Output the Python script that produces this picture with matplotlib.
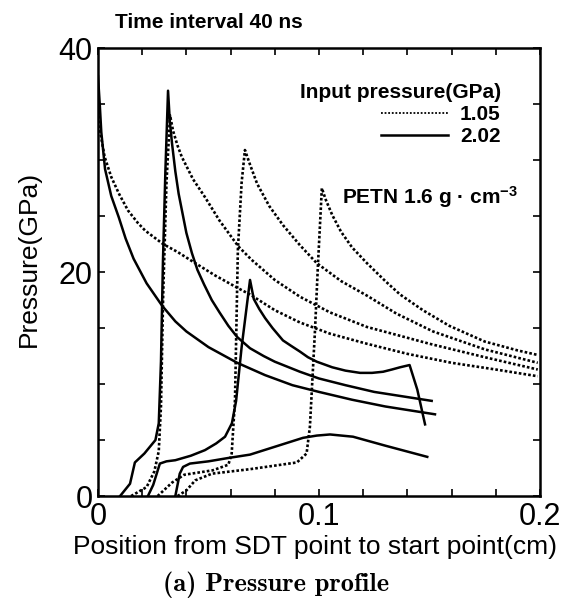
import numpy as np
import matplotlib
matplotlib.use("Agg")
import matplotlib.pyplot as plt
from matplotlib.lines import Line2D

plt.rcParams['font.family'] = ['Liberation Sans', 'DejaVu Sans']
plt.rcParams['mathtext.default'] = 'regular'

# Solid curves, input pressure 2.02 GPa (position in cm, pressure in GPa)
s1_x = [0, 0.0008, 0.0015, 0.0032, 0.006, 0.0094, 0.0125, 0.0161, 0.022, 0.029, 0.035, 0.040, 0.050, 0.063,
        0.0756, 0.088, 0.100, 0.115, 0.130, 0.1525]
s1_y = [37.5, 35.0, 32.5, 29.2, 26.8, 24.9, 23.0, 21.2, 19.0, 17.0, 15.6, 14.7, 13.3, 11.9, 10.8, 9.9, 9.3,
        8.6, 8.0, 7.3]

s2_x = [0.010, 0.0145, 0.0167, 0.021, 0.026, 0.0275, 0.0285, 0.0294, 0.0305, 0.0317, 0.0325, 0.0335, 0.035,
        0.0365, 0.038, 0.040, 0.0425, 0.045, 0.048, 0.0515, 0.055, 0.059, 0.063, 0.0688, 0.075, 0.080, 0.0914,
        0.100, 0.112, 0.125, 0.138, 0.151]
s2_y = [0, 1.1, 3.0, 3.8, 5.0, 6.5, 12, 21, 29, 36.2, 33.5, 31.5, 29.0, 27.0, 25.5, 23.5, 21.7, 20.2, 18.9,
        17.5, 16.4, 15.2, 14.2, 13.2, 12.5, 12.0, 11.1, 10.5, 9.9, 9.3, 8.9, 8.5]

s3_x = [0.0226, 0.025, 0.028, 0.031, 0.035, 0.042, 0.0484, 0.0535, 0.0575, 0.0606, 0.0625, 0.065, 0.0688,
        0.0705, 0.073, 0.0756, 0.079, 0.0837, 0.0875, 0.0914, 0.095, 0.099, 0.106, 0.112, 0.1186, 0.124, 0.129,
        0.133, 0.1367, 0.141, 0.1445, 0.148]
s3_y = [0, 1.0, 2.9, 3.1, 3.2, 3.6, 4.1, 4.7, 5.3, 6.5, 8.5, 13.3, 19.3, 17.6, 16.7, 15.9, 15.0, 13.9, 13.4,
        12.9, 12.4, 12.0, 11.5, 11.2, 11.0, 11.0, 11.1, 11.3, 11.5, 11.7, 9.5, 6.4]

s4_x = [0.035, 0.037, 0.0385, 0.0416, 0.050, 0.059, 0.0688, 0.080, 0.0928, 0.099, 0.105, 0.1154, 0.130, 0.149]
s4_y = [0, 2.0, 2.6, 2.9, 3.1, 3.4, 3.7, 4.4, 5.2, 5.4, 5.5, 5.3, 4.5, 3.5]

# Dotted curves, input pressure 1.05 GPa
d1_x = [0, 0.001, 0.003, 0.006, 0.0095, 0.0136, 0.018, 0.0214, 0.0295, 0.036, 0.0424, 0.053, 0.064, 0.0688,
        0.080, 0.0914, 0.105, 0.1217, 0.140, 0.160, 0.180, 0.199]
d1_y = [36.5, 32.5, 30.3, 28.5, 27.0, 25.5, 24.4, 23.7, 22.5, 21.8, 21.0, 19.7, 18.5, 18.0, 16.6, 15.5, 14.5,
        13.6, 12.7, 11.9, 11.3, 10.7]

d2_x = [0.015, 0.022, 0.0255, 0.0275, 0.0285, 0.0295, 0.031, 0.0326, 0.034, 0.036, 0.0379, 0.043, 0.0484,
        0.055, 0.0635, 0.0695, 0.080, 0.0914, 0.105, 0.1217, 0.135, 0.150, 0.175, 0.199]
d2_y = [0, 0.8, 2.2, 4.0, 8, 18, 28, 34.0, 32.6, 31.3, 30.3, 28.3, 26.7, 24.6, 22.3, 21.1, 19.3, 17.8, 16.4,
        15.1, 14.4, 13.6, 12.4, 11.3]

d3_x = [0.027, 0.0335, 0.039, 0.052, 0.059, 0.0605, 0.062, 0.0633, 0.065, 0.0665, 0.0688, 0.072, 0.0775,
        0.0837, 0.0914, 0.099, 0.110, 0.1217, 0.135, 0.1516, 0.175, 0.199]
d3_y = [0, 1.2, 1.9, 2.3, 2.8, 3.8, 8.6, 22, 28, 30.9, 29.6, 27.9, 25.9, 24.2, 22.4, 20.8, 19.2, 17.9, 16.3,
        14.7, 13.1, 11.9]

d4_x = [0.036, 0.040, 0.044, 0.0516, 0.0688, 0.090, 0.0944, 0.0959, 0.0982, 0.0995, 0.1013, 0.103, 0.106,
        0.110, 0.115, 0.1217, 0.130, 0.1367, 0.147, 0.159, 0.175, 0.190, 0.199]
d4_y = [0, 0.5, 1.4, 2.0, 2.4, 3.0, 3.8, 6.2, 14.8, 20.5, 27.5, 26.5, 25.1, 23.6, 22.2, 20.8, 19.2, 18.0,
        16.6, 15.2, 13.8, 13.0, 12.6]

x_ticks = np.arange(0, 0.2001, 0.02)
x_labels = ['0', '', '', '', '', '0.1', '', '', '', '', '0.2']
y_ticks = np.arange(0, 41, 5)
y_labels = ['0', '', '', '', '20', '', '', '', '40']
legend_labels = ['1.05', '2.02']

DOT = (0, (1.0, 0.8))

fig = plt.figure(figsize=(5.74, 6.02), dpi=100)
ax = fig.add_axes([0.1707, 0.176, 0.770, 0.744])

for x, y in [(d1_x, d1_y), (d2_x, d2_y), (d3_x, d3_y), (d4_x, d4_y)]:
    ax.plot(x, y, color='black', lw=1.9, linestyle=DOT)
for x, y in [(s1_x, s1_y), (s2_x, s2_y), (s3_x, s3_y), (s4_x, s4_y)]:
    ax.plot(x, y, color='black', lw=1.8)

ax.set_xlim(0, 0.2)
ax.set_ylim(0, 40)
ax.set_xticks(x_ticks)
ax.set_xticklabels(x_labels)
ax.set_yticks(y_ticks)
ax.set_yticklabels(y_labels)
ax.tick_params(direction='in', top=True, right=True, length=5, width=1.2, labelsize=22, pad=4)
for sp in ax.spines.values():
    sp.set_linewidth(1.8)

ax.set_xlabel('Position from SDT point to start point(cm)', fontsize=19)
ax.xaxis.set_label_coords(0.49, -0.088)
ax.set_ylabel('Pressure(GPa)', fontsize=19)
ax.yaxis.set_label_coords(-0.13, 0.53)

# legend: dotted = 1.05 GPa, solid = 2.02 GPa
handles = [Line2D([], [], color='black', lw=1.3, linestyle=(0, (1, 1))),
           Line2D([], [], color='black', lw=1.8)]
leg = ax.legend(handles, legend_labels, title='Input pressure(GPa)', loc='upper right',
                bbox_to_anchor=(0.935, 0.945), frameon=False, alignment='right',
                handlelength=3.2, handletextpad=0.6, labelspacing=0.15, borderpad=0,
                prop={'size': 15, 'weight': 'bold'},
                title_fontproperties={'size': 15, 'weight': 'bold'})

ax.text(0.552, 0.667, 'PETN 1.6 g · cm$^{-3}$', transform=ax.transAxes, fontsize=15,
        fontweight='bold', va='center', ha='left')

fig.text(115 / 574, 1 - 23 / 602, 'Time interval 40 ns', fontsize=15, fontweight='bold',
         va='center', ha='left')
fig.text(276 / 574, 1 - 585 / 602, '(a) Pressure profile', fontsize=19, family='cmb10',
         va='center', ha='center')

fig.savefig('out.png', dpi=100)
